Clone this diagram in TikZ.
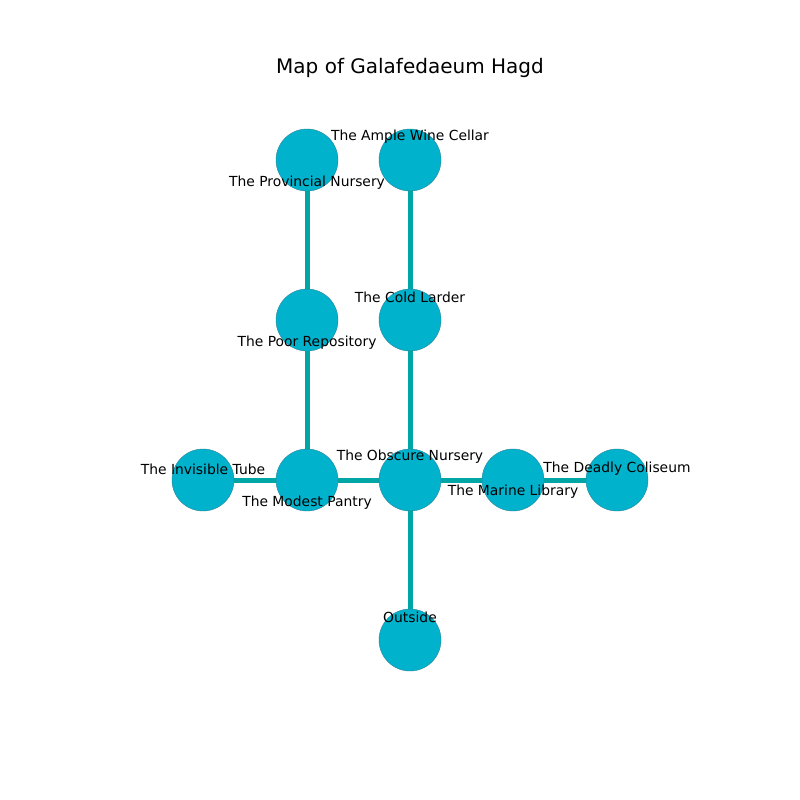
\documentclass[tikz,border=0pt]{standalone}
\usepackage{fontspec}
\setmainfont{DejaVu Sans}
\usetikzlibrary{positioning}
\definecolor{roomfill}{RGB}{0,178,204}
\definecolor{roomedge}{RGB}{40,130,150}
\definecolor{corridor}{RGB}{0,166,166}

\begin{document}
\begin{tikzpicture}[x=0.75pt, y=-0.75pt]

  \tikzset{
    every room/.style={circle, fill=roomfill, draw=roomedge, line width=0.3pt,
      minimum size=46.5pt, inner sep=0pt},
    room label/.style={font=\fontsize{10.4}{12}\selectfont, inner sep=0pt},
    passage/.style={corridor, line width=3.75pt}
  }

  \useasboundingbox (0,0) rectangle (800,800);

  \node [font=\fontsize{15}{18}\selectfont] (title) at (410,68) {Map of Galafedaeum Hagd};

  % rooms
  \foreach \n/\x/\y in {wine/410/160, provincial/307/160, larder/410/320,
      poor/307/320, tube/203/480, pantry/307/480, obscure/410/480,
      marine/513/480, coliseum/617/480, outside/410/640}
    \coordinate (pos-\n) at (\x,\y);

  % corridors
  \foreach \a/\b in {provincial/poor, poor/pantry, wine/larder, larder/obscure,
      tube/pantry, pantry/obscure, obscure/marine, marine/coliseum, obscure/outside}
    \draw [passage] (pos-\a) -- (pos-\b);

  \foreach \n in {wine, provincial, larder, poor, tube, pantry, obscure,
      marine, coliseum, outside}
    \node [every room/.try] (room-\n) at (pos-\n) {};

  % labels
  \foreach \n/\dy/\l in {wine/-23/The Ample Wine Cellar,
      provincial/23/The Provincial Nursery, larder/-23/The Cold Larder,
      poor/23/The Poor Repository, tube/-11/The Invisible Tube,
      pantry/23/The Modest Pantry, obscure/-23/The Obscure Nursery,
      marine/12/The Marine Library, coliseum/-11/The Deadly Coliseum,
      outside/-23/Outside}
    \node [room label] (label-\n) at ([yshift=-\dy*0.75pt]room-\n.center) {\l};

\end{tikzpicture}
\end{document}
